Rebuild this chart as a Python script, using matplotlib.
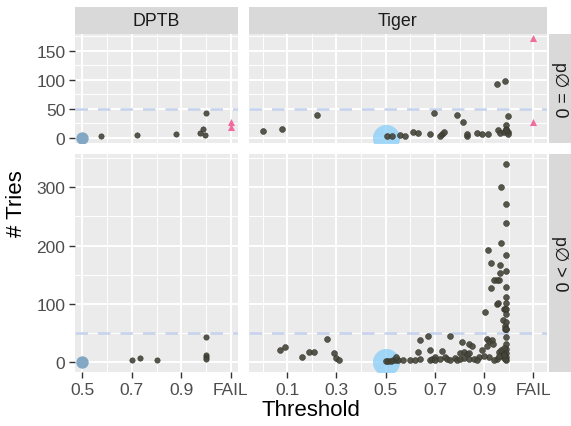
import matplotlib
matplotlib.use('Agg')
import matplotlib.pyplot as plt

plt.rcParams['font.family'] = ['Liberation Sans', 'DejaVu Sans']

# ---- data -------------------------------------------------------------
fail_x = 1.1
base_x = 0.5
base_y = 0

dptb_ticks = [0.5, 0.7, 0.9, 1.1]
dptb_labels = ['0.5', '0.7', '0.9', 'FAIL']
tiger_ticks = [0.1, 0.3, 0.5, 0.7, 0.9, 1.1]
tiger_labels = ['0.1', '0.3', '0.5', '0.7', '0.9', 'FAIL']
top_yticks = [0, 50, 100, 150]
bot_yticks = [0, 100, 200, 300]
cutoff = 50

row_labels = ['p\u2205 = 0', 'p\u2205 > 0']
col_labels = ['DPTB', 'Tiger']

# DPTB, p0 = 0
dptb_eq_x = [0.575, 0.72, 0.88, 0.975, 0.99, 0.995, 1.0]
dptb_eq_y = [3, 6, 7, 9, 16, 6, 43]
dptb_eq_fail = [28, 19]

# DPTB, p0 > 0
dptb_gt_x = [0.70, 0.735, 0.80, 1.0, 1.0, 1.0, 1.0]
dptb_gt_y = [4, 7, 4, 43, 13, 9, 6]
dptb_gt_fail = []

# Tiger, p0 = 0
tiger_eq_x = [0.0, 0.08, 0.22, 0.505, 0.525, 0.56, 0.58, 0.61, 0.63, 0.68,
              0.695, 0.72, 0.73, 0.735, 0.79, 0.815, 0.83, 0.83, 0.87, 0.89,
              0.915, 0.95, 0.985, 0.955, 0.965, 0.99, 0.99, 0.995, 0.995,
              0.98, 0.995, 0.99]
tiger_eq_y = [12, 15, 39, 3, 3, 6, 3, 11, 9, 7,
              43, 3, 7, 11, 39, 28, 4, 7, 9, 7,
              7, 92, 98, 13, 9, 16, 22, 38, 10,
              10, 7, 13]
tiger_eq_fail = [172, 28]

# Tiger, p0 > 0
tiger_gt_x = [0.07, 0.09, 0.16, 0.19, 0.21, 0.26, 0.29, 0.30, 0.31,
              0.50, 0.51, 0.52, 0.53, 0.54, 0.55, 0.57, 0.54,
              0.60, 0.62, 0.64, 0.63, 0.64, 0.67, 0.68, 0.68, 0.69, 0.70, 0.70,
              0.73, 0.72, 0.74, 0.75, 0.76, 0.76, 0.78, 0.79, 0.80,
              0.81, 0.84, 0.85, 0.80, 0.82, 0.83, 0.84, 0.82, 0.84, 0.86, 0.88,
              0.89, 0.87,
              0.905, 0.914, 0.91, 0.92, 0.93, 0.935, 0.91, 0.928, 0.928, 0.94,
              0.95, 0.96, 0.95, 0.955,
              0.97, 0.97, 0.965, 0.965, 0.975, 0.98, 0.985, 0.985, 0.99, 0.985,
              0.99, 0.99, 0.99, 0.99, 0.99, 0.99, 0.99, 0.99, 0.99, 0.99,
              0.99, 0.99, 0.99, 0.99, 0.99, 0.99, 0.99, 0.99,
              0.96, 0.97, 0.98, 0.975, 0.985, 0.95, 0.94, 0.92, 0.90, 0.96,
              0.98, 0.98]
tiger_gt_y = [20, 26, 8, 18, 18, 39, 15, 7, 4,
              2, 2, 2, 3, 3, 4, 4, 9,
              3, 3, 5, 17, 38, 44, 21, 3, 6, 9, 3,
              19, 5, 8, 6, 44, 4, 7, 3, 5,
              35, 31, 28, 15, 18, 14, 16, 7, 5, 6, 8,
              21, 4,
              86, 193, 40, 37, 38, 31, 28, 170, 127, 140,
              141, 140, 100, 101,
              300, 205, 166, 153, 73, 91, 91, 62, 57, 57,
              340, 271, 239, 183, 157, 129, 111, 102, 91, 83,
              69, 57, 43, 31, 23, 16, 9, 4,
              18, 20, 25, 8, 5, 6, 4, 8, 10, 10,
              14, 12]
tiger_gt_fail = []

# ---- layout (pixels) ---------------------------------------------------
W, H = 571, 427
fig = plt.figure(figsize=(W / 100, H / 100), dpi=100)

cols = [(75, 238), (249, 547)]
rows = [(35, 144), (155, 373)]
xlims = [(0.47, 1.13), (-0.055, 1.155)]
ylims = [(-8.5, 178.5), (-17, 357)]


def add_px_axes(x0, y0, x1, y1):
    return fig.add_axes([x0 / W, 1 - y1 / H, (x1 - x0) / W, (y1 - y0) / H])


panels = {
    (0, 0): (dptb_eq_x, dptb_eq_y, dptb_eq_fail),
    (0, 1): (tiger_eq_x, tiger_eq_y, tiger_eq_fail),
    (1, 0): (dptb_gt_x, dptb_gt_y, dptb_gt_fail),
    (1, 1): (tiger_gt_x, tiger_gt_y, tiger_gt_fail),
}

for (r, c), (xs, ys, fails) in panels.items():
    ax = add_px_axes(cols[c][0], rows[r][0], cols[c][1], rows[r][1])
    ax.set_facecolor('#EBEBEB')
    for s in ax.spines.values():
        s.set_visible(False)

    xt = dptb_ticks if c == 0 else tiger_ticks
    xl = dptb_labels if c == 0 else tiger_labels
    yt = top_yticks if r == 0 else bot_yticks
    step = yt[1] - yt[0]
    ax.set_xticks(xt)
    ax.set_xticks([t + 0.1 for t in xt] + [xt[0] - 0.1], minor=True)
    ax.set_yticks(yt)
    ax.set_yticks([t + step / 2 for t in yt], minor=True)
    ax.set_xticklabels(xl if r == 1 else [])
    ax.set_yticklabels([str(t) for t in yt] if c == 0 else [])
    # limits after ticks, set_ticks widens the view otherwise
    ax.set_xlim(*xlims[c])
    ax.set_ylim(*ylims[r])
    ax.tick_params(which='major', length=4, width=1, color='#333333',
                   labelsize=12.5, labelcolor='#4D4D4D', pad=3)
    ax.tick_params(which='minor', length=0)
    if r == 0:
        ax.tick_params(axis='x', length=0)
    if c == 1:
        ax.tick_params(axis='y', length=0)
    ax.grid(which='major', color='white', lw=1.4)
    ax.grid(which='minor', color='white', lw=0.7)
    ax.set_axisbelow(True)

    ax.axhline(cutoff, color='#C6D3EC', lw=1.8, ls=(0, (5, 4)), zorder=1)

    if c == 0:
        ax.scatter([base_x], [base_y], s=80, color='#7BA4C2', alpha=0.95,
                   lw=0, zorder=2)
    else:
        ax.scatter([base_x], [base_y], s=380, color='#87CEFA', alpha=0.75,
                   lw=0, zorder=2)
    ax.scatter(xs, ys, s=18 if c == 1 else 15, color='#45453A',
               edgecolor='#33332A', lw=0.4, alpha=0.9, zorder=3)
    if fails:
        ax.scatter([fail_x] * len(fails), fails, marker='^', s=26,
                   color='#F26B9F', lw=0, zorder=3)

# column strips
for c, lab in enumerate(col_labels):
    sax = add_px_axes(cols[c][0], 8, cols[c][1], 34.5)
    sax.set_facecolor('#D9D9D9')
    sax.set_xticks([])
    sax.set_yticks([])
    for s in sax.spines.values():
        s.set_visible(False)
    sax.text(0.5, 0.48, lab, ha='center', va='center', fontsize=12.8,
             color='#1A1A1A', transform=sax.transAxes)

# row strips
for r, lab in enumerate(row_labels):
    sax = add_px_axes(549, rows[r][0], 571, rows[r][1])
    sax.set_facecolor('#D9D9D9')
    sax.set_xticks([])
    sax.set_yticks([])
    for s in sax.spines.values():
        s.set_visible(False)
    sax.text(0.5, 0.5, lab, ha='center', va='center', fontsize=12.8,
             rotation=-90, color='#1A1A1A', transform=sax.transAxes)

fig.text(17 / W, 1 - 204 / H, '# Tries', rotation=90, ha='center',
         va='center', fontsize=16)
fig.text(311 / W, 1 - 411 / H, 'Threshold', ha='center', va='center',
         fontsize=16)

fig.savefig('out.png', dpi=100)
